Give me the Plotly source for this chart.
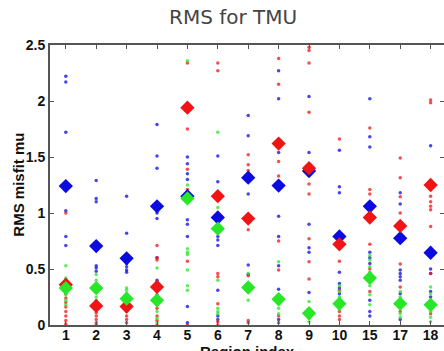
import plotly.graph_objects as go

categories = ['1', '2', '3', '4', '5', '6', '7', '8', '9', '10', '15', '17', '18']

red_mean = [0.36, 0.17, 0.165, 0.34, 1.94, 1.15, 0.95, 1.62, 1.40, 0.72, 0.96, 0.885, 1.25]
blue_mean = [1.24, 0.705, 0.595, 1.06, 1.15, 0.96, 1.315, 1.245, 1.375, 0.79, 1.06, 0.775, 0.645]
green_mean = [0.33, 0.33, 0.235, 0.22, 1.13, 0.86, 0.335, 0.23, 0.105, 0.19, 0.42, 0.19, 0.18]

blue_dots = [
    [2.22, 2.17, 1.72, 1.02, 0.79, 0.71],
    [1.29, 1.13, 1.10, 0.53, 0.51, 0.48],
    [1.15, 0.82, 0.55, 0.52, 0.49, 0.47],
    [1.79, 1.51, 1.40, 1.0, 0.95, 0.60, 0.40, 0.27],
    [1.50, 1.44, 1.35, 1.30, 0.94, 0.90, 0.79, 0.165, 0.02],
    [1.51, 1.28, 0.79, 0.76, 0.71, 0.31, 0.08, 0.05],
    [1.87, 1.69, 1.17, 0.535, 0.45],
    [2.27, 2.02, 1.54, 0.97, 0.79, 0.53, 0.32, 0.05],
    [2.04, 1.54, 0.90, 0.69, 0.65, 0.29],
    [1.56, 1.235, 1.18, 0.47, 0.37, 0.33, 0.28],
    [2.02, 1.68, 1.59, 0.65, 0.60, 0.55, 0.22, 0.12, 0.08],
    [1.18, 1.08, 0.49, 0.46, 0.43, 0.40, 0.28, 0.05],
    [1.60, 0.50, 0.46, 0.30, 0.25],
]
red_dots = [
    [1.0, 0.38, 0.28, 0.24, 0.20, 0.16, 0.12, 0.08, 0.04, 0.01],
    [0.21, 0.14, 0.11, 0.08, 0.05, 0.02, 0.0],
    [0.20, 0.12, 0.08, 0.05, 0.02],
    [0.71, 0.60, 0.58, 0.38, 0.15, 0.08, 0.04, 0.0],
    [2.34, 1.75, 1.39, 1.21, 0.57, 0.0],
    [2.34, 2.27, 0.46, 0.43, 0.19, 0.03, 0.0],
    [1.52, 1.43, 1.38, 0.85, 0.44, 0.04, 0.02],
    [2.38, 2.15, 1.46, 1.33, 0.75, 0.49, 0.08, 0.02],
    [2.48, 2.45, 2.34, 1.90, 1.26, 1.17, 0.77, 0.565, 0.41],
    [1.66, 0.57, 0.31, 0.12, 0.08, 0.05],
    [1.76, 1.21, 1.17, 0.72, 0.50, 0.30],
    [1.49, 1.315, 1.145, 1.0, 0.545, 0.34, 0.12],
    [2.01, 1.985, 1.15, 1.10, 1.06, 1.03, 0.88, 0.46, 0.10],
]
green_dots = [
    [0.53, 0.42, 0.40, 0.30, 0.27, 0.22, 0.18],
    [0.45, 0.40, 0.36, 0.29, 0.25, 0.22],
    [0.33, 0.31, 0.28, 0.20, 0.17, 0.12],
    [0.51, 0.30, 0.18, 0.12, 0.06, 0.02],
    [2.36, 1.25, 0.68, 0.65, 0.63, 0.49, 0.35, 0.31],
    [1.72, 1.05, 0.40, 0.15, 0.12, 0.10],
    [0.46, 0.30, 0.22],
    [0.565, 0.15, 0.10],
    [0.21, 0.06, 0.03],
    [0.35, 0.30, 0.25, 0.14],
    [0.62, 0.58, 0.52, 0.47, 0.35, 0.27, 0.18],
    [0.30, 0.25, 0.10, 0.07],
    [0.34, 0.28, 0.22, 0.12, 0.07, 0.03],
]

y_ticks = [0, 0.5, 1, 1.5, 2, 2.5]
y_ticktext = ['0', '0.5', '1', '1.5', '2', '2.5']

RED = 'rgb(240,20,20)'
BLUE = 'rgb(10,10,225)'
GREEN = 'rgb(40,230,40)'

fig = go.Figure()


def dots(vals, color):
    xs, ys = [], []
    for c, lst in zip(categories, vals):
        for v in lst:
            xs.append(c)
            ys.append(v)
    fig.add_trace(go.Scatter(x=xs, y=ys, mode='markers',
                             marker=dict(symbol='circle', size=3.5, color=color, opacity=0.75,
                                         line=dict(width=0)),
                             showlegend=False))


dots(blue_dots, BLUE)
dots(red_dots, RED)
dots(green_dots, GREEN)

for means, color in [(blue_mean, BLUE), (red_mean, RED), (green_mean, GREEN)]:
    fig.add_trace(go.Scatter(x=categories, y=means, mode='markers',
                             marker=dict(symbol='diamond', size=11, color=color, line=dict(width=0)),
                             showlegend=False))

axis_color = '#555555'
tick_font = dict(family='Liberation Sans', size=14, color='#111111', weight='bold')
fig.update_layout(
    width=444, height=351,
    margin=dict(l=50, r=0, t=45, b=26),
    paper_bgcolor='white', plot_bgcolor='white',
    hovermode=False,
    title=dict(text='RMS for TMU', x=0.525, xref='container', xanchor='center',
               y=0.952, yref='container', yanchor='middle',
               font=dict(family='DejaVu Sans', size=20, color='#444444')),
    xaxis=dict(type='category', categoryorder='array', categoryarray=categories,
               range=[-0.52, 12.44], showgrid=False, zeroline=False,
               showline=True, linecolor=axis_color, linewidth=2, mirror='ticks',
               ticks='inside', ticklen=4, tickcolor=axis_color, tickwidth=1,
               tickfont=tick_font, ticklabelstandoff=-4, automargin=False),
    yaxis=dict(range=[0, 2.5], tickvals=y_ticks, ticktext=y_ticktext,
               showgrid=False, zeroline=False,
               showline=True, linecolor=axis_color, linewidth=2, mirror='ticks',
               ticks='inside', ticklen=4, tickcolor=axis_color, tickwidth=1,
               tickfont=tick_font, automargin=False),
    annotations=[
        dict(text='RMS misfit mu', xref='paper', yref='paper', x=-0.082, y=0.5,
             xanchor='center', yanchor='middle', textangle=-90, showarrow=False,
             font=dict(family='Liberation Sans', size=15, color='#111111', weight='bold')),
        dict(text='Region index', xref='paper', yref='paper', x=0.5, y=-0.058,
             xanchor='center', yanchor='top', showarrow=False,
             font=dict(family='Liberation Sans', size=15, color='#111111', weight='bold')),
    ],
)

fig.write_html('out.html', config={'displayModeBar': False},
               post_script="document.body.style.margin='0px';document.body.style.overflow='hidden';")
